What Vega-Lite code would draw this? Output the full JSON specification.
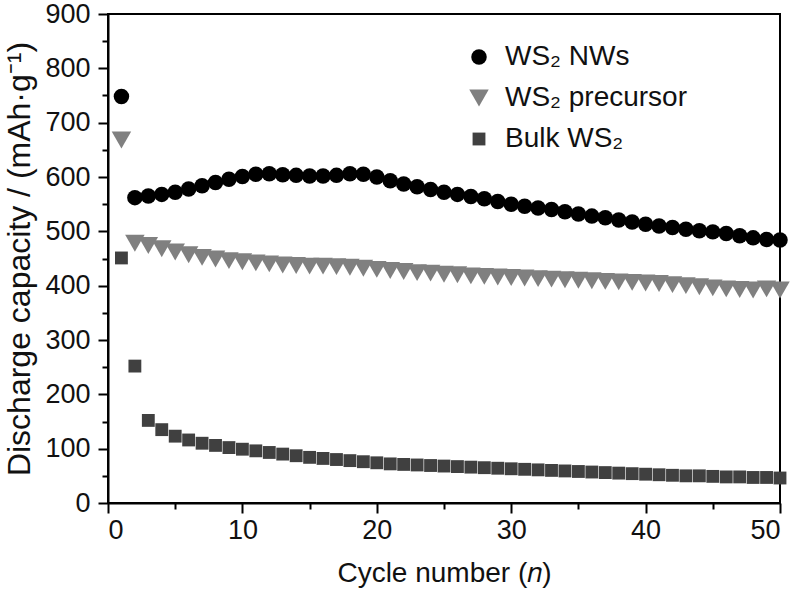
{
  "$schema": "https://vega.github.io/schema/vega-lite/v6.json",
  "width": 672,
  "height": 489,
  "autosize": {"type": "none"},
  "padding": {"left": 108, "top": 14, "right": 20, "bottom": 87},
  "background": "white",
  "config": {
    "font": "Liberation Sans",
    "view": {"stroke": "black", "strokeWidth": 2},
    "axis": {
      "grid": false,
      "domainColor": "black",
      "domainWidth": 2,
      "tickColor": "black",
      "tickWidth": 2,
      "labelColor": "#111",
      "titleColor": "#111",
      "labelFont": "Liberation Sans",
      "titleFont": "Liberation Sans",
      "labelFontSize": 27,
      "titleFontSize": 28,
      "titleFontWeight": "normal"
    }
  },
  "data": {
    "values": [
      {"cycle": 1, "WS₂ NWs": 748, "WS₂ precursor": 668, "Bulk WS₂": 451},
      {"cycle": 2, "WS₂ NWs": 562, "WS₂ precursor": 478, "Bulk WS₂": 252},
      {"cycle": 3, "WS₂ NWs": 565, "WS₂ precursor": 474, "Bulk WS₂": 152},
      {"cycle": 4, "WS₂ NWs": 568, "WS₂ precursor": 468, "Bulk WS₂": 135},
      {"cycle": 5, "WS₂ NWs": 572, "WS₂ precursor": 462, "Bulk WS₂": 123},
      {"cycle": 6, "WS₂ NWs": 578, "WS₂ precursor": 457, "Bulk WS₂": 116},
      {"cycle": 7, "WS₂ NWs": 584, "WS₂ precursor": 452, "Bulk WS₂": 110},
      {"cycle": 8, "WS₂ NWs": 590, "WS₂ precursor": 449, "Bulk WS₂": 106},
      {"cycle": 9, "WS₂ NWs": 596, "WS₂ precursor": 446, "Bulk WS₂": 102},
      {"cycle": 10, "WS₂ NWs": 601, "WS₂ precursor": 444, "Bulk WS₂": 99},
      {"cycle": 11, "WS₂ NWs": 605, "WS₂ precursor": 442, "Bulk WS₂": 96},
      {"cycle": 12, "WS₂ NWs": 606, "WS₂ precursor": 440, "Bulk WS₂": 93},
      {"cycle": 13, "WS₂ NWs": 604, "WS₂ precursor": 438, "Bulk WS₂": 90},
      {"cycle": 14, "WS₂ NWs": 603, "WS₂ precursor": 437, "Bulk WS₂": 87},
      {"cycle": 15, "WS₂ NWs": 602, "WS₂ precursor": 436, "Bulk WS₂": 84},
      {"cycle": 16, "WS₂ NWs": 602, "WS₂ precursor": 436, "Bulk WS₂": 82},
      {"cycle": 17, "WS₂ NWs": 603, "WS₂ precursor": 435, "Bulk WS₂": 80},
      {"cycle": 18, "WS₂ NWs": 606, "WS₂ precursor": 434, "Bulk WS₂": 78},
      {"cycle": 19, "WS₂ NWs": 605, "WS₂ precursor": 432, "Bulk WS₂": 76},
      {"cycle": 20, "WS₂ NWs": 600, "WS₂ precursor": 430, "Bulk WS₂": 74},
      {"cycle": 21, "WS₂ NWs": 593, "WS₂ precursor": 428, "Bulk WS₂": 72},
      {"cycle": 22, "WS₂ NWs": 587, "WS₂ precursor": 426, "Bulk WS₂": 71},
      {"cycle": 23, "WS₂ NWs": 582, "WS₂ precursor": 424, "Bulk WS₂": 70},
      {"cycle": 24, "WS₂ NWs": 577, "WS₂ precursor": 423, "Bulk WS₂": 69},
      {"cycle": 25, "WS₂ NWs": 572, "WS₂ precursor": 421, "Bulk WS₂": 68},
      {"cycle": 26, "WS₂ NWs": 568, "WS₂ precursor": 420, "Bulk WS₂": 67},
      {"cycle": 27, "WS₂ NWs": 564, "WS₂ precursor": 418, "Bulk WS₂": 66},
      {"cycle": 28, "WS₂ NWs": 560, "WS₂ precursor": 417, "Bulk WS₂": 65},
      {"cycle": 29, "WS₂ NWs": 555, "WS₂ precursor": 416, "Bulk WS₂": 64},
      {"cycle": 30, "WS₂ NWs": 550, "WS₂ precursor": 415, "Bulk WS₂": 63},
      {"cycle": 31, "WS₂ NWs": 546, "WS₂ precursor": 414, "Bulk WS₂": 62},
      {"cycle": 32, "WS₂ NWs": 543, "WS₂ precursor": 413, "Bulk WS₂": 61},
      {"cycle": 33, "WS₂ NWs": 540, "WS₂ precursor": 412, "Bulk WS₂": 60},
      {"cycle": 34, "WS₂ NWs": 536, "WS₂ precursor": 411, "Bulk WS₂": 59},
      {"cycle": 35, "WS₂ NWs": 532, "WS₂ precursor": 410, "Bulk WS₂": 58},
      {"cycle": 36, "WS₂ NWs": 528, "WS₂ precursor": 409, "Bulk WS₂": 57},
      {"cycle": 37, "WS₂ NWs": 525, "WS₂ precursor": 408, "Bulk WS₂": 56},
      {"cycle": 38, "WS₂ NWs": 521, "WS₂ precursor": 407, "Bulk WS₂": 55},
      {"cycle": 39, "WS₂ NWs": 517, "WS₂ precursor": 406, "Bulk WS₂": 54},
      {"cycle": 40, "WS₂ NWs": 513, "WS₂ precursor": 405, "Bulk WS₂": 53},
      {"cycle": 41, "WS₂ NWs": 510, "WS₂ precursor": 404, "Bulk WS₂": 52},
      {"cycle": 42, "WS₂ NWs": 507, "WS₂ precursor": 402, "Bulk WS₂": 51},
      {"cycle": 43, "WS₂ NWs": 504, "WS₂ precursor": 400, "Bulk WS₂": 50},
      {"cycle": 44, "WS₂ NWs": 501, "WS₂ precursor": 398, "Bulk WS₂": 50},
      {"cycle": 45, "WS₂ NWs": 499, "WS₂ precursor": 396, "Bulk WS₂": 49},
      {"cycle": 46, "WS₂ NWs": 496, "WS₂ precursor": 394, "Bulk WS₂": 48},
      {"cycle": 47, "WS₂ NWs": 492, "WS₂ precursor": 393, "Bulk WS₂": 48},
      {"cycle": 48, "WS₂ NWs": 488, "WS₂ precursor": 392, "Bulk WS₂": 47},
      {"cycle": 49, "WS₂ NWs": 485, "WS₂ precursor": 394, "Bulk WS₂": 47},
      {"cycle": 50, "WS₂ NWs": 484, "WS₂ precursor": 392, "Bulk WS₂": 46}
    ]
  },
  "transform": [
    {"fold": ["WS₂ NWs", "WS₂ precursor", "Bulk WS₂"], "as": ["series", "capacity"]}
  ],
  "resolve": {"axis": {"x": "independent", "y": "independent"}},
  "layer": [
    {
      "mark": {"type": "point", "filled": true, "opacity": 1, "strokeWidth": 0},
      "encoding": {
        "x": {
          "field": "cycle", "type": "quantitative",
          "scale": {"domain": [0, 50], "nice": false},
          "axis": {"orient": "bottom", "values": [0, 10, 20, 30, 40, 50], "tickSize": 10, "labelPadding": 4, "title": "Cycle number (𝑛)", "titlePadding": 16}
        },
        "y": {
          "field": "capacity", "type": "quantitative",
          "scale": {"domain": [0, 900], "nice": false},
          "axis": {"orient": "left", "values": [0, 100, 200, 300, 400, 500, 600, 700, 800, 900], "tickSize": 10, "labelPadding": 8, "title": "Discharge capacity / (mAh·g⁻¹)", "titleFontSize": 32, "titlePadding": 8}
        },
        "color": {
          "field": "series", "type": "nominal",
          "scale": {"domain": ["WS₂ NWs", "WS₂ precursor", "Bulk WS₂"], "range": ["#000000", "#808080", "#404040"]},
          "legend": {
            "title": null, "orient": "none", "legendX": 357, "legendY": 29,
            "labelFontSize": 28, "labelFont": "Liberation Sans", "labelColor": "#111", "labelLimit": 400,
            "symbolStrokeWidth": 0, "labelOffset": 12, "rowPadding": 13, "padding": 0
          }
        },
        "shape": {
          "field": "series", "type": "nominal",
          "scale": {"domain": ["WS₂ NWs", "WS₂ precursor", "Bulk WS₂"], "range": ["circle", "triangle-down", "square"]}
        },
        "size": {
          "field": "series", "type": "nominal",
          "scale": {"type": "ordinal", "domain": ["WS₂ NWs", "WS₂ precursor", "Bulk WS₂"], "range": [240, 380, 165]}
        }
      }
    },
    {
      "mark": {"type": "point", "opacity": 0},
      "encoding": {
        "x": {
          "field": "cycle", "type": "quantitative",
          "axis": {"orient": "bottom", "values": [5, 15, 25, 35, 45], "tickSize": 6, "labels": false, "title": null, "domain": false}
        },
        "y": {
          "field": "capacity", "type": "quantitative",
          "axis": {"orient": "left", "values": [50, 150, 250, 350, 450, 550, 650, 750, 850], "tickSize": 6, "labels": false, "title": null, "domain": false}
        }
      }
    }
  ]
}
